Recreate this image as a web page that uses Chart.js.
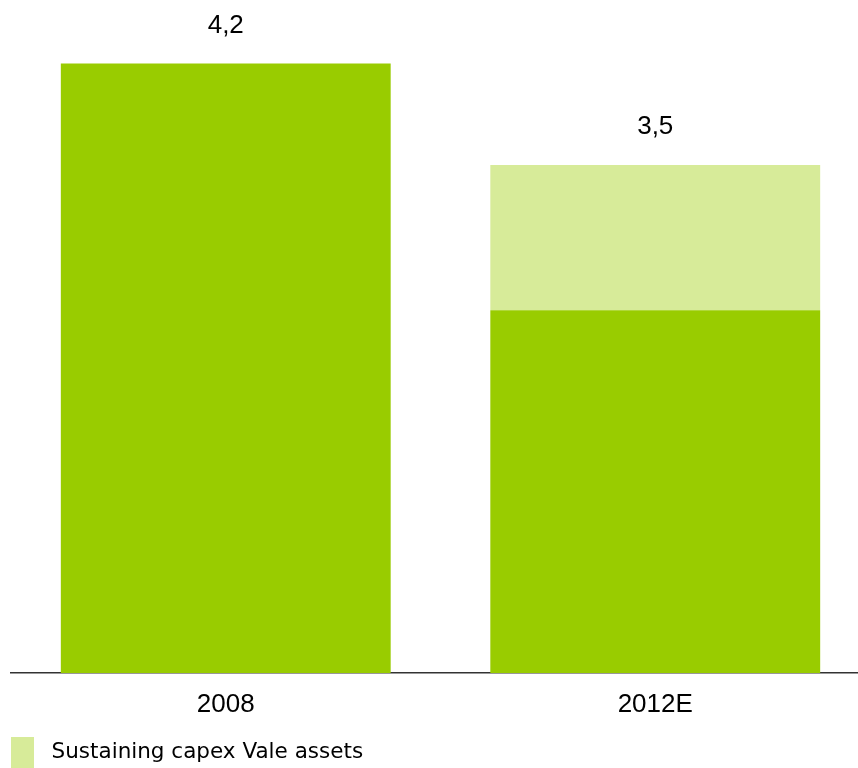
<!DOCTYPE html>
<html>
<head>
<meta charset="utf-8">
<title>Sustaining capex</title>
<script src="https://cdn.jsdelivr.net/npm/chart.js@4/dist/chart.umd.min.js"></script>
<style>
  html, body { margin: 0; padding: 0; background: #fff; overflow: hidden; }
  #wrap { position: relative; width: 872px; height: 778px; }
</style>
</head>
<body>
<div id="wrap"><canvas id="capexChart"></canvas></div>
<script>
const years = ["2008", "2012E"];
const capexBase = [4.2, 2.5];
const capexVale = [0, 1.0];

const labelFont = "'Liberation Sans', Arial, sans-serif";

// total of the stacked bars, written above each column as "4,2"
const totalLabels = {
  id: "totalLabels",
  afterDatasetsDraw(chart) {
    const { ctx } = chart;
    const yScale = chart.scales.y;
    const meta = chart.getDatasetMeta(0);
    ctx.save();
    ctx.font = "26px " + labelFont;
    ctx.fillStyle = "#000";
    ctx.textAlign = "center";
    ctx.textBaseline = "alphabetic";
    years.forEach((year, i) => {
      const total = capexBase[i] + capexVale[i];
      const x = meta.data[i].x;
      const y = yScale.getPixelForValue(total) - 31;
      ctx.fillText(total.toFixed(1).replace(".", ","), x, y);
    });
    ctx.restore();
  },
};

new Chart(document.getElementById("capexChart"), {
  type: "bar",
  data: {
    labels: years,
    datasets: [
      {
        label: "Sustaining capex",
        data: capexBase,
        backgroundColor: "#99cc00",
        barPercentage: 0.768,
        categoryPercentage: 1,
      },
      {
        label: "Sustaining capex Vale assets",
        data: capexVale,
        backgroundColor: "#d7eb99",
        barPercentage: 0.768,
        categoryPercentage: 1,
      },
    ],
  },
  options: {
    responsive: true,
    maintainAspectRatio: false,
    animation: false,
    layout: {
      padding: { left: 11, right: 2, top: 20, bottom: 0 },
    },
    plugins: {
      tooltip: { enabled: false },
      legend: {
        position: "bottom",
        align: "start",
        labels: {
          // only the Vale assets series gets a legend entry
          generateLabels: (chart) =>
            Chart.defaults.plugins.legend.labels
              .generateLabels(chart)
              .filter((item) => item.datasetIndex === 1)
              .map((item) => ({ ...item, text: " " + item.text })),
          boxWidth: 23,
          boxHeight: 31,
          padding: 0,
          color: "#000",
          font: { family: "'DejaVu Sans', Verdana, sans-serif", size: 21.5 },
        },
      },
    },
    scales: {
      x: {
        stacked: true,
        grid: { display: false, drawTicks: false },
        border: { display: true, color: "#333", width: 1.5 },
        ticks: {
          color: "#000",
          padding: 19,
          font: { family: labelFont, size: 26, lineHeight: 1 },
        },
      },
      y: {
        stacked: true,
        display: false,
        min: 0,
        max: 4.5,
      },
    },
  },
  plugins: [totalLabels],
});
</script>
</body>
</html>
